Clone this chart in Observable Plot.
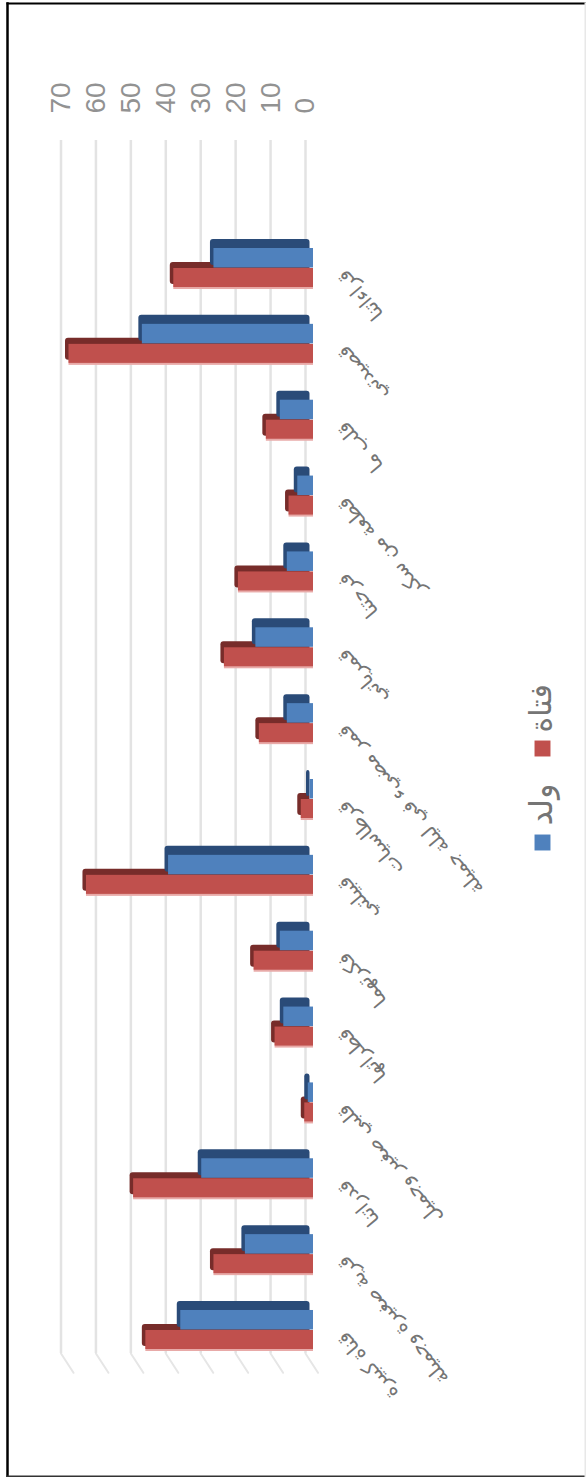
<!DOCTYPE html>
<html>
<head>
<meta charset="utf-8">
<script src="https://cdn.jsdelivr.net/npm/d3@7"></script>
<script src="https://cdn.jsdelivr.net/npm/@observablehq/plot@0.6"></script>
<style>
  html, body { margin: 0; padding: 0; background: #fff; }
  svg { display: block; }
</style>
</head>
<body>
<div id="chart"></div>
<script>
// Category names, in drawing order from top to bottom
const categories = [
  "قراءاتنا", "قصيدتي", "قلب ما", "قطعة من سكر", "فرحتنا", "قمرياتي", "قمر مضيء في ليلة جميلة",
  "قرطاسيات", "قبيلتي", "فكرتهما", "قطراتها", "قلبي صغير وجميل", "قدراتنا", "قرية صغيرة وجميلة", "قناة كبيرة"
];

// Series values per category
const blueValues = [28.5, 49, 9.5, 4.5, 7.5, 16.5, 7.5, 1, 41.5, 9.5, 8.5, 1.5, 32, 19.5, 38];
const redValues = [40, 70, 13.5, 7, 21.5, 25.5, 15.5, 3.5, 65, 17, 11, 2.5, 51.5, 28.5, 48];

const valueTicks = [0, 10, 20, 30, 40, 50, 60, 70];

const seriesNames = ["ولد", "فتاة"];

const rows = categories.map((name, i) => ({name, blue: blueValues[i], red: redValues[i]}));

// Extruded bar: dark back plate, then the lighter front face shifted toward the baseline
const barMark = (key, face, dark, backTop, backBottom, faceTop, faceBottom) => [
  Plot.barX(rows, {x: key, y: "name", fill: dark, dx: 4.5, rx: 3, insetTop: backTop, insetBottom: backBottom}),
  Plot.barX(rows, {x: key, y: "name", fill: face, dx: 8, insetTop: faceTop, insetBottom: faceBottom})
];

const chart = Plot.plot({
  width: 586,
  height: 1477,
  marginLeft: 7,
  marginRight: 1,
  marginTop: 3,
  marginBottom: 1,
  style: {background: "#fff", overflow: "visible"},
  x: {domain: [70, 0], range: [60.5, 305], axis: null},
  y: {domain: categories, range: [239, 1349], paddingInner: 0.367, paddingOuter: 0, round: false, axis: null},
  marks: [
    // Outer border: black on three sides, pale on the right
    Plot.frame({anchor: "left", stroke: "#000", strokeWidth: 2.5}),
    Plot.frame({anchor: "top", stroke: "#000", strokeWidth: 2}),
    Plot.frame({anchor: "bottom", stroke: "#333", strokeWidth: 2}),
    Plot.frame({anchor: "right", stroke: "#e8e8e8", strokeWidth: 2}),
    // Gridlines with their short slanted feet on the floor of the chart
    Plot.ruleX(valueTicks, {x: d => d, stroke: "#e3e3e3", strokeWidth: 2.5, insetTop: 137, insetBottom: 123}),
    Plot.vector(valueTicks, {
      x: d => d,
      frameAnchor: "bottom",
      dy: -123,
      length: 23,
      rotate: 147,
      anchor: "start",
      stroke: "#e6e6e6",
      strokeWidth: 2,
      shape: {draw(context, l) { context.moveTo(0, 0); context.lineTo(0, -l); }}
    }),
    // Value labels along the top
    Plot.text(valueTicks, {
      x: d => d,
      text: d => String(d),
      frameAnchor: "top",
      dy: 110,
      rotate: -90,
      textAnchor: "start",
      lineAnchor: "middle",
      fontFamily: "Liberation Sans",
      fontSize: 28,
      fill: "#929292"
    }),
    // Soft lower edge of the red faces
    Plot.barX(rows, {x: "red", y: "name", fill: "#e8aaa8", dx: 8, insetTop: 45, insetBottom: -2}),
    ...barMark("red", "#c0504d", "#772c2a", 23, 3, 29, 0),
    ...barMark("blue", "#4f81bd", "#2a4b78", 0, 22, 9, 19.5),
    // Slanted category labels
    Plot.text(rows, {
      x: () => 0,
      y: "name",
      text: "name",
      dx: 36,
      dy: 9,
      rotate: -130,
      textAnchor: "end",
      lineAnchor: "middle",
      fontFamily: "DejaVu Sans",
      fontSize: 20,
      fill: "#757575"
    }),
    // Legend
    Plot.dot([seriesNames[0]], {frameAnchor: "top-left", dx: 535, dy: 839, symbol: "square", r: 9, fill: "#4f81bd"}),
    Plot.dot([seriesNames[1]], {frameAnchor: "top-left", dx: 535, dy: 745, symbol: "square", r: 9, fill: "#c0504d"}),
    Plot.text([seriesNames[0]], {frameAnchor: "top-left", text: d => d, dx: 534, dy: 822, rotate: -90, textAnchor: "start", lineAnchor: "middle", fontFamily: "DejaVu Sans", fontSize: 32, fill: "#757575"}),
    Plot.text([seriesNames[1]], {frameAnchor: "top-left", text: d => d, dx: 534, dy: 729, rotate: -90, textAnchor: "start", lineAnchor: "middle", fontFamily: "DejaVu Sans", fontSize: 30, fill: "#757575"})
  ]
});

document.getElementById("chart").appendChild(chart);
</script>
</body>
</html>
